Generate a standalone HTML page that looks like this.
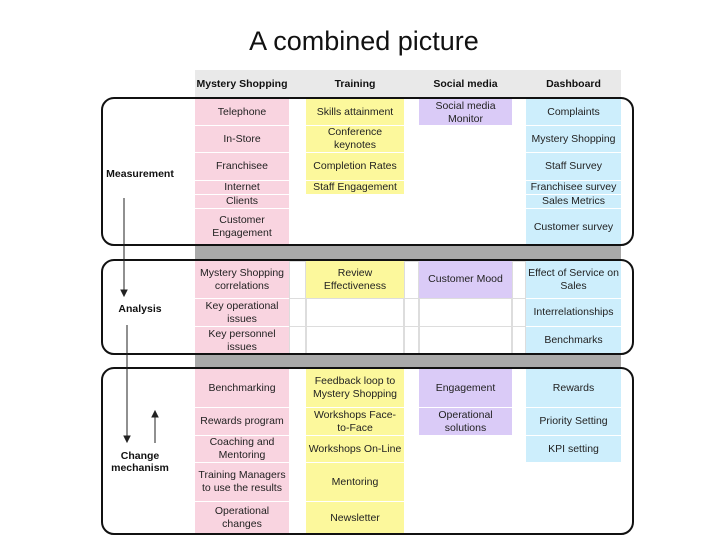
<!DOCTYPE html>
<html><head><meta charset="utf-8"><style>
body{margin:0;width:728px;height:546px;background:#fff;position:relative;overflow:hidden;font-family:"Liberation Sans",Arial,sans-serif;}
.c{position:absolute;display:flex;align-items:center;justify-content:center;text-align:center;font-size:10.5px;line-height:13px;color:#222;box-sizing:border-box;}
.p{background:#f9d4e0}.y{background:#fcf89c}.v{background:#dacbf7}.b{background:#cdeefc}
.w{background:#fff;border:1px solid #ddd}
.h{position:absolute;font-size:10.5px;font-weight:bold;color:#111;text-align:center}
.box{position:absolute;border:2px solid #111;border-radius:13px;box-sizing:border-box}
.lbl{position:absolute;font-size:10.5px;font-weight:bold;text-align:center;line-height:12px;color:#111}
</style></head><body>
<div style="position:absolute;left:0;width:728px;top:26px;text-align:center;font-size:27px;color:#111;padding-left:0;">A combined picture</div>
<div style="position:absolute;left:195px;top:70px;width:426px;height:28px;background:#e9e9e9"></div>
<div class="h" style="left:195px;width:94px;top:78px">Mystery Shopping</div>
<div class="h" style="left:306px;width:98px;top:78px">Training</div>
<div class="h" style="left:419px;width:93px;top:78px">Social media</div>
<div class="h" style="left:526px;width:95px;top:78px">Dashboard</div>
<div style="position:absolute;left:195px;top:246px;width:426px;height:13px;background:#a9a9a9"></div>
<div style="position:absolute;left:195px;top:354px;width:426px;height:13px;background:#a9a9a9"></div>

<!-- Measurement -->
<div class="c p" style="left:195px;width:94px;top:99px;height:26px">Telephone</div>
<div class="c p" style="left:195px;width:94px;top:126px;height:26px">In-Store</div>
<div class="c p" style="left:195px;width:94px;top:153px;height:27px">Franchisee</div>
<div class="c p" style="left:195px;width:94px;top:181px;height:13px">Internet</div>
<div class="c p" style="left:195px;width:94px;top:195px;height:13px">Clients</div>
<div class="c p" style="left:195px;width:94px;top:209px;height:36px">Customer<br>Engagement</div>
<div class="c y" style="left:306px;width:98px;top:99px;height:26px">Skills attainment</div>
<div class="c y" style="left:306px;width:98px;top:126px;height:26px">Conference<br>keynotes</div>
<div class="c y" style="left:306px;width:98px;top:153px;height:27px">Completion Rates</div>
<div class="c y" style="left:306px;width:98px;top:181px;height:13px">Staff Engagement</div>
<div class="c v" style="left:419px;width:93px;top:99px;height:26px;align-items:flex-start;padding-top:1px">Social media<br>Monitor</div>
<div class="c b" style="left:526px;width:95px;top:99px;height:26px">Complaints</div>
<div class="c b" style="left:526px;width:95px;top:126px;height:26px">Mystery Shopping</div>
<div class="c b" style="left:526px;width:95px;top:153px;height:27px">Staff Survey</div>
<div class="c b" style="left:526px;width:95px;top:181px;height:13px">Franchisee survey</div>
<div class="c b" style="left:526px;width:95px;top:195px;height:13px">Sales Metrics</div>
<div class="c b" style="left:526px;width:95px;top:209px;height:36px">Customer survey</div>

<!-- Analysis -->
<div class="c w" style="left:289px;width:17px;top:261px;height:38px"></div>
<div class="c w" style="left:289px;width:17px;top:298px;height:29px"></div>
<div class="c w" style="left:289px;width:17px;top:326px;height:28px"></div>
<div class="c w" style="left:404px;width:15px;top:261px;height:38px"></div>
<div class="c w" style="left:404px;width:15px;top:298px;height:29px"></div>
<div class="c w" style="left:404px;width:15px;top:326px;height:28px"></div>
<div class="c w" style="left:512px;width:14px;top:261px;height:38px"></div>
<div class="c w" style="left:512px;width:14px;top:298px;height:29px"></div>
<div class="c w" style="left:512px;width:14px;top:326px;height:28px"></div>
<div class="c w" style="left:306px;width:98px;top:298px;height:29px"></div>
<div class="c w" style="left:306px;width:98px;top:326px;height:28px"></div>
<div class="c w" style="left:419px;width:93px;top:298px;height:29px"></div>
<div class="c w" style="left:419px;width:93px;top:326px;height:28px"></div>
<div class="c p" style="left:195px;width:94px;top:261px;height:37px">Mystery Shopping<br>correlations</div>
<div class="c p" style="left:195px;width:94px;top:299px;height:27px">Key operational<br>issues</div>
<div class="c p" style="left:195px;width:94px;top:327px;height:27px">Key personnel<br>issues</div>
<div class="c y" style="left:306px;width:98px;top:261px;height:37px">Review<br>Effectiveness</div>
<div class="c v" style="left:419px;width:93px;top:261px;height:37px">Customer Mood</div>
<div class="c b" style="left:526px;width:95px;top:261px;height:37px">Effect of Service on<br>Sales</div>
<div class="c b" style="left:526px;width:95px;top:299px;height:27px">Interrelationships</div>
<div class="c b" style="left:526px;width:95px;top:327px;height:27px">Benchmarks</div>

<!-- Change -->
<div class="c p" style="left:195px;width:94px;top:369px;height:38px">Benchmarking</div>
<div class="c p" style="left:195px;width:94px;top:408px;height:27px">Rewards program</div>
<div class="c p" style="left:195px;width:94px;top:436px;height:26px">Coaching and<br>Mentoring</div>
<div class="c p" style="left:195px;width:94px;top:463px;height:38px">Training Managers<br>to use the results</div>
<div class="c p" style="left:195px;width:94px;top:502px;height:32px">Operational<br>changes</div>
<div class="c y" style="left:306px;width:98px;top:369px;height:38px">Feedback loop to<br>Mystery Shopping</div>
<div class="c y" style="left:306px;width:98px;top:408px;height:27px">Workshops Face-<br>to-Face</div>
<div class="c y" style="left:306px;width:98px;top:436px;height:26px">Workshops On-Line</div>
<div class="c y" style="left:306px;width:98px;top:463px;height:38px">Mentoring</div>
<div class="c y" style="left:306px;width:98px;top:502px;height:32px">Newsletter</div>
<div class="c v" style="left:419px;width:93px;top:369px;height:38px">Engagement</div>
<div class="c v" style="left:419px;width:93px;top:408px;height:27px">Operational<br>solutions</div>
<div class="c b" style="left:526px;width:95px;top:369px;height:38px">Rewards</div>
<div class="c b" style="left:526px;width:95px;top:408px;height:27px">Priority Setting</div>
<div class="c b" style="left:526px;width:95px;top:436px;height:26px">KPI setting</div>

<div class="box" style="left:101px;top:97px;width:533px;height:149px"></div>
<div class="box" style="left:101px;top:259px;width:533px;height:96px"></div>
<div class="box" style="left:101px;top:367px;width:533px;height:168px"></div>

<div class="lbl" style="left:104px;width:72px;top:168px">Measurement</div>
<div class="lbl" style="left:110px;width:60px;top:303px">Analysis</div>
<div class="lbl" style="left:104px;width:72px;top:450px">Change<br>mechanism</div>

<svg width="728" height="546" style="position:absolute;left:0;top:0" xmlns="http://www.w3.org/2000/svg">
<g stroke="#222" stroke-width="1" fill="#222">
<line x1="124" y1="198" x2="124" y2="291"/><polygon points="121,290 127,290 124,296"/>
<line x1="127" y1="325" x2="127" y2="437"/><polygon points="124,436 130,436 127,442"/>
<line x1="155" y1="443" x2="155" y2="416"/><polygon points="152,417 158,417 155,411"/>
</g></svg>
</body></html>
